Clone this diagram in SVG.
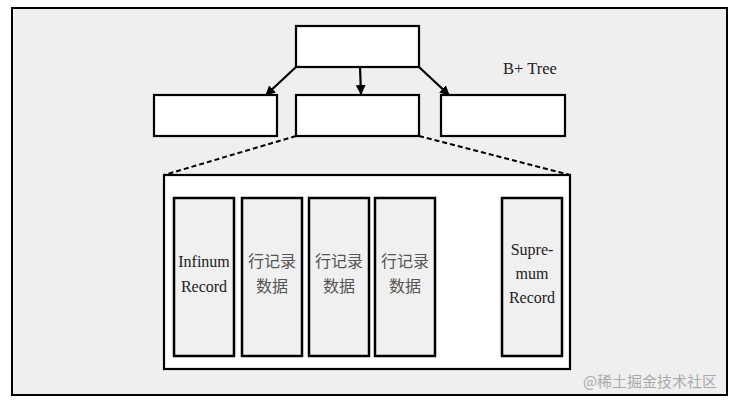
<svg xmlns="http://www.w3.org/2000/svg" width="733" height="405" viewBox="0 0 733 405">
<defs>
<style>
.box{fill:#fff;stroke:#000;stroke-width:2.2}
.col{fill:#f0f0f0;stroke:#000;stroke-width:2.5}
.en{font-size:16px;fill:#222;text-anchor:middle}
.zh{font-size:16px;fill:#555;text-anchor:middle}
.arr{stroke:#000;stroke-width:2.2;fill:none;marker-end:url(#ah)}
.dash{stroke:#000;stroke-width:2;fill:none;stroke-dasharray:5 3}
</style>
<marker id="ah" viewBox="0 0 10 10" refX="9" refY="5" markerWidth="4.5" markerHeight="4.5" orient="auto" markerUnits="strokeWidth">
<path d="M0,0 L10,5 L0,10 z" fill="#000"/>
</marker>
</defs>
<rect x="0" y="0" width="733" height="405" fill="#fff"/>
<rect id="frame" x="12" y="8" width="715" height="387" fill="#efefef" stroke="#000" stroke-width="2"/>
<g id="root"><rect class="box" x="296" y="26" width="123" height="41"/></g>
<g id="leafL"><rect class="box" x="154" y="95" width="123" height="41"/></g>
<g id="leafM"><rect class="box" x="296" y="95" width="123" height="41"/></g>
<g id="leafR"><rect class="box" x="441" y="95" width="124" height="41"/></g>
<text x="530" y="74" font-family="Liberation Serif, DejaVu Serif, serif" font-size="16.5" fill="#222" text-anchor="middle">B+ Tree</text>
<g id="page"><rect class="box" x="164" y="175" width="406" height="194"/></g>
<g id="infinum" font-family="Liberation Serif, DejaVu Serif, serif"><rect class="col" x="174" y="198" width="60" height="158"/>
<text class="en" x="204" y="267">Infinum</text><text class="en" x="204" y="292">Record</text></g>
<g id="row1" font-family="Noto Sans CJK SC, sans-serif"><rect class="col" x="242" y="198" width="60" height="158"/>
<text class="zh" x="272" y="267">行记录</text><text class="zh" x="272" y="292">数据</text></g>
<g id="row2" font-family="Noto Sans CJK SC, sans-serif"><rect class="col" x="309" y="198" width="60" height="158"/>
<text class="zh" x="339" y="267">行记录</text><text class="zh" x="339" y="292">数据</text></g>
<g id="row3" font-family="Noto Sans CJK SC, sans-serif"><rect class="col" x="375" y="198" width="60" height="158"/>
<text class="zh" x="405" y="267">行记录</text><text class="zh" x="405" y="292">数据</text></g>
<g id="supremum" font-family="Liberation Serif, DejaVu Serif, serif"><rect class="col" x="502" y="198" width="60" height="158"/>
<text class="en" x="532" y="255">Supre-</text><text class="en" x="532" y="279">mum</text><text class="en" x="532" y="303">Record</text></g>
<g id="connectors">
<line class="arr" x1="296" y1="67" x2="266" y2="95"/>
<line class="arr" x1="360" y1="67" x2="361" y2="94"/>
<line class="arr" x1="419" y1="67" x2="449" y2="95"/>
<line class="dash" x1="296" y1="136" x2="164" y2="175"/>
<line class="dash" x1="419" y1="136" x2="570" y2="175"/>
</g>
<text x="650" y="387" font-family="Noto Sans CJK SC, sans-serif" font-size="15" fill="#aaa" text-anchor="middle">@稀土掘金技术社区</text>
</svg>
